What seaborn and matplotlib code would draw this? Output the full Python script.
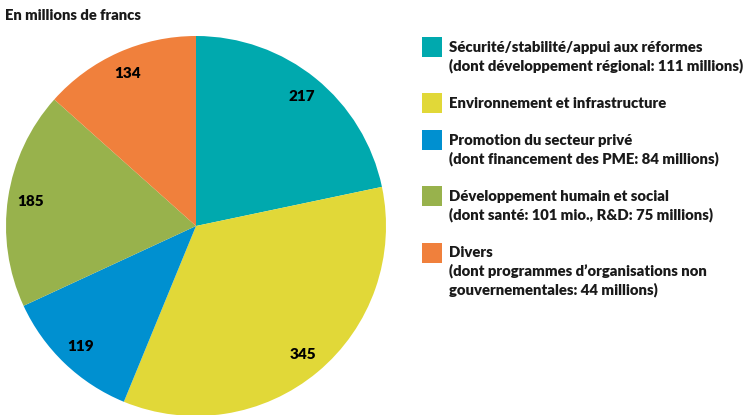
import matplotlib
matplotlib.use("Agg")
import matplotlib.pyplot as plt
import seaborn as sns
from matplotlib.patches import Rectangle

sns.set_theme(style="white")
plt.rcParams['font.family'] = ['Lato', 'DejaVu Sans']

categories = [
    "Sécurité/stabilité/appui aux réformes\n(dont développement régional: 111 millions)",
    "Environnement et infrastructure",
    "Promotion du secteur privé\n(dont financement des PME: 84 millions)",
    "Développement humain et social\n(dont santé: 101 mio., R&D: 75 millions)",
    "Divers\n(dont programmes d\u2019organisations non\ngouvernementales: 44 millions)",
]
values = [217, 345, 119, 185, 134]
colors = ["#00A9AE", "#E1D838", "#0090D0", "#98B24C", "#F0803C"]
title = "En millions de francs"

W, H = 746, 415
fig = plt.figure(figsize=(W / 100, H / 100), dpi=100)

cx, cy, r = 196, 226, 190
ax = fig.add_axes([(cx - r) / W, (H - cy - r) / H, 2 * r / W, 2 * r / H])
wedges, texts, autotexts = ax.pie(
    values, colors=colors, startangle=90, counterclock=False,
    autopct=lambda p: f"{p * sum(values) / 100:.0f}", pctdistance=0.88,
    wedgeprops=dict(linewidth=0),
    textprops=dict(fontsize=11, fontweight='heavy', color='black'),
)
ax.set_aspect('equal')
ax.set_xlim(-1, 1)
ax.set_ylim(-1, 1)

fig.text(5 / W, 1 - 15 / H, title, fontsize=10.6, fontweight='heavy',
         va='center', ha='left', color='#1a1a1a')

line_px = 18.5
y = 37
for lab, col in zip(categories, colors):
    fig.add_artist(Rectangle((422 / W, 1 - (y + 20) / H), 20 / W, 20 / H,
                             transform=fig.transFigure, facecolor=col,
                             edgecolor='none'))
    lines = lab.split("\n")
    for i, ln in enumerate(lines):
        fig.text(449 / W, 1 - (y + 10 + i * line_px) / H, ln, fontsize=10.7,
                 fontweight='heavy', va='center', ha='left', color='#1a1a1a')
    y += len(lines) * line_px + 19

fig.savefig("out.png", dpi=100)
